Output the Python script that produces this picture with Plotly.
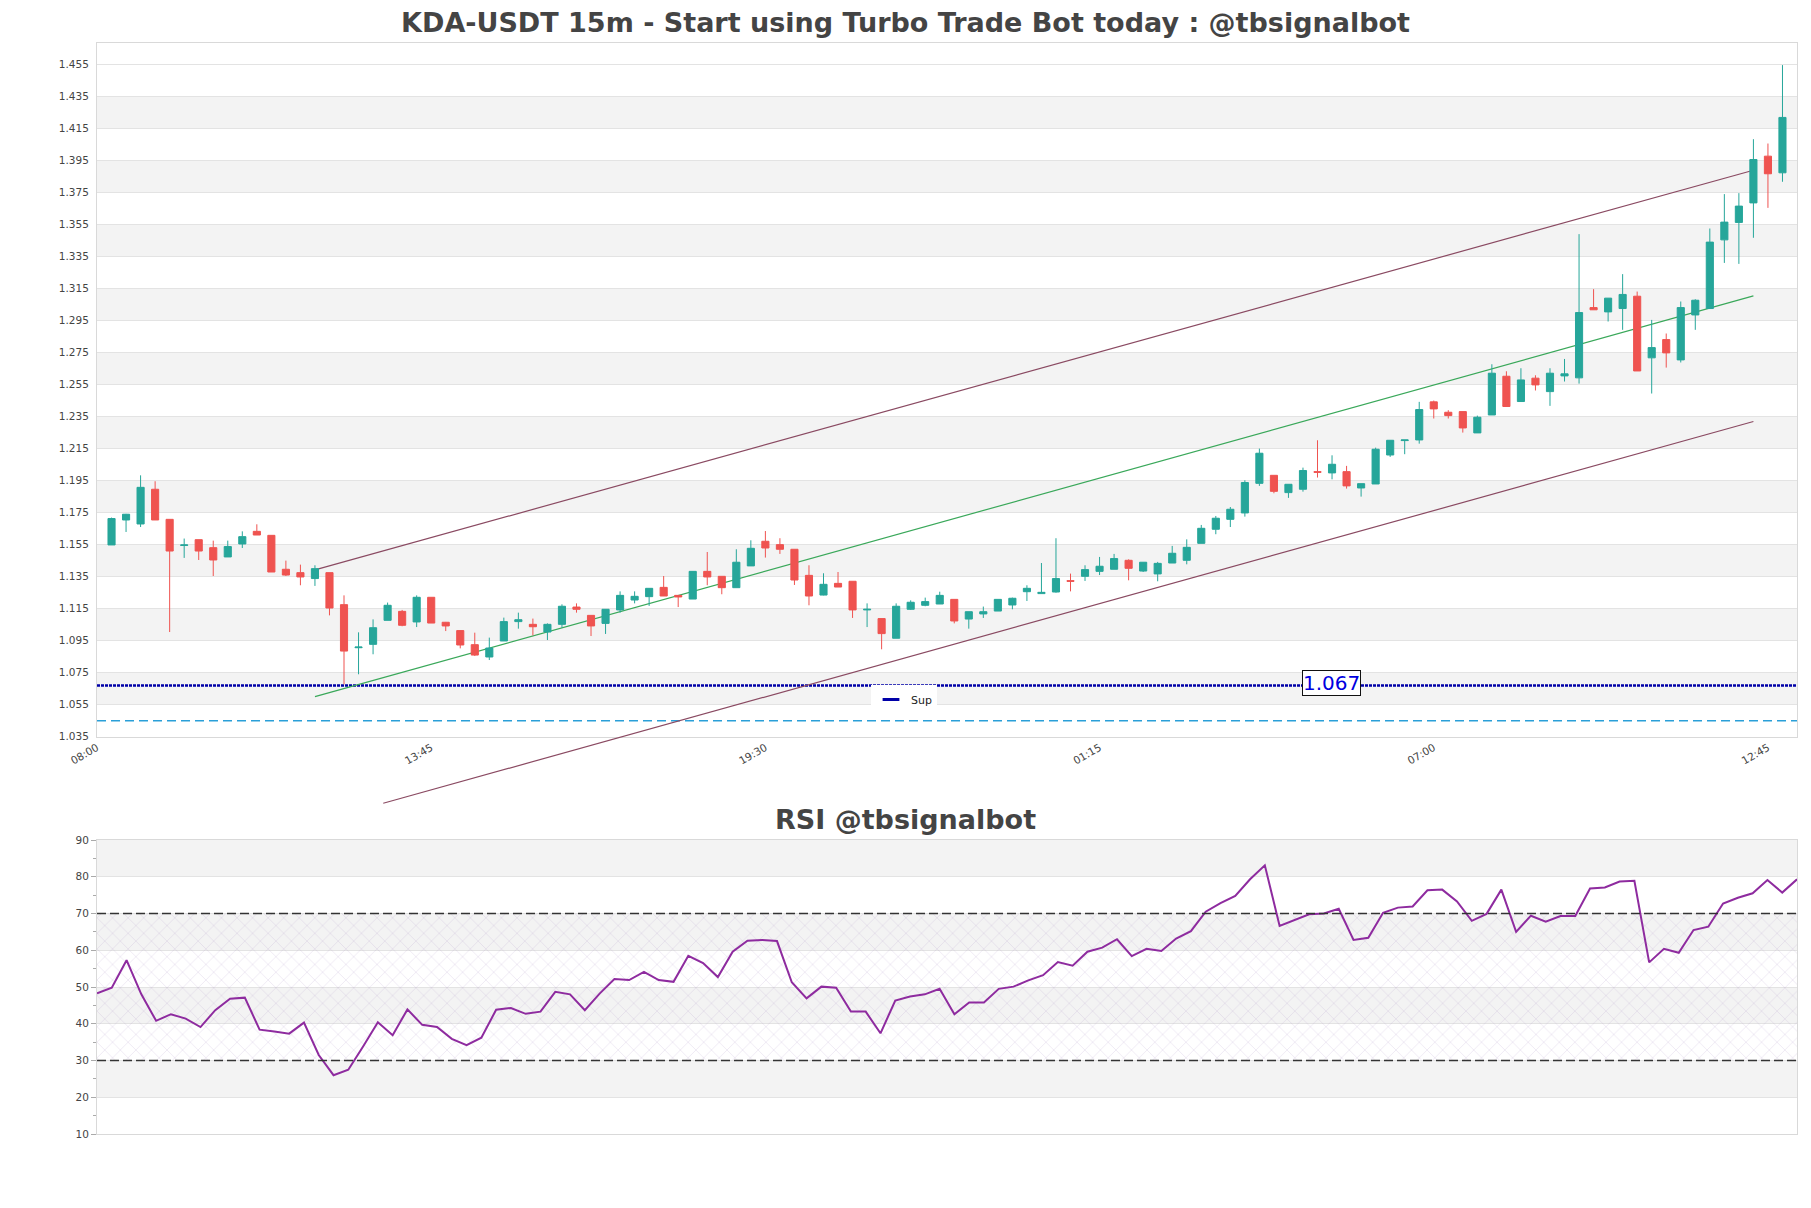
import plotly.graph_objects as go
from datetime import datetime, timedelta

# ---------------- data ----------------
start_time = datetime(2024, 1, 15, 8, 15)
n_candles = 116
dates = [start_time + timedelta(minutes=15 * i) for i in range(n_candles)]

open_ = [1.1548, 1.1704, 1.1679, 1.1896, 1.1708, 1.1545, 1.1581, 1.1531, 1.1473, 1.1554,
         1.1633, 1.1608, 1.1396, 1.1375, 1.1338, 1.1375, 1.1175, 1.0906, 1.0927, 1.1077,
         1.1133, 1.1067, 1.1221, 1.1065, 1.1013, 1.0925, 1.0848, 1.0948, 1.1069, 1.1052,
         1.1004, 1.1052, 1.1160, 1.1108, 1.1058, 1.1142, 1.1204, 1.1225, 1.1283, 1.1233,
         1.1210, 1.1383, 1.1352, 1.1281, 1.1417, 1.1571, 1.1550, 1.1521, 1.1358, 1.1235,
         1.1308, 1.1321, 1.1142, 1.1088, 1.0965, 1.1146, 1.1171, 1.1179, 1.1208, 1.1085,
         1.1117, 1.1135, 1.1173, 1.1256, 1.1244, 1.1254, 1.1325, 1.1352, 1.1383, 1.1396,
         1.1452, 1.1385, 1.1367, 1.1435, 1.1452, 1.1558, 1.1646, 1.1708, 1.1748, 1.1933,
         1.1983, 1.1875, 1.1896, 1.2006, 1.1998, 1.2006, 1.1904, 1.1929, 1.2110, 1.2200,
         1.2204, 1.2442, 1.2377, 1.2381, 1.2248, 1.2360, 1.2602, 1.2444, 1.2590, 1.2506,
         1.2604, 1.2592, 1.3031, 1.3004, 1.3025, 1.3102, 1.2717, 1.2831, 1.2704, 1.2985,
         1.3025, 1.3454, 1.3563, 1.3685, 1.3977, 1.3873]
high = [1.1719, 1.1742, 1.1983, 1.1946, 1.1708, 1.1588, 1.1581, 1.1575, 1.1575, 1.1633,
        1.1677, 1.1608, 1.1450, 1.1425, 1.1421, 1.1375, 1.1233, 1.1002, 1.1083, 1.1188,
        1.1142, 1.1233, 1.1221, 1.1067, 1.1013, 1.1000, 1.0969, 1.1094, 1.1125, 1.1088,
        1.1058, 1.1177, 1.1183, 1.1108, 1.1146, 1.1258, 1.1258, 1.1277, 1.1354, 1.1233,
        1.1383, 1.1504, 1.1352, 1.1521, 1.1577, 1.1635, 1.1590, 1.1521, 1.1421, 1.1371,
        1.1379, 1.1321, 1.1183, 1.1088, 1.1183, 1.1202, 1.1219, 1.1256, 1.1208, 1.1131,
        1.1163, 1.1208, 1.1219, 1.1296, 1.1435, 1.1590, 1.1369, 1.1421, 1.1473, 1.1492,
        1.1458, 1.1440, 1.1442, 1.1542, 1.1583, 1.1673, 1.1729, 1.1785, 1.1952, 1.2150,
        1.1983, 1.1927, 1.2031, 1.2202, 1.2108, 1.2042, 1.1931, 1.2156, 1.2202, 1.2204,
        1.2442, 1.2450, 1.2390, 1.2381, 1.2356, 1.2677, 1.2633, 1.2652, 1.2608, 1.2652,
        1.2710, 1.3490, 1.3146, 1.3090, 1.3240, 1.3131, 1.2954, 1.2869, 1.3069, 1.3083,
        1.3525, 1.3740, 1.3746, 1.4083, 1.4056, 1.4546]
low = [1.1548, 1.1629, 1.1660, 1.1704, 1.1004, 1.1467, 1.1454, 1.1354, 1.1473, 1.1529,
       1.1610, 1.1379, 1.1354, 1.1296, 1.1292, 1.1108, 1.0677, 1.0740, 1.0865, 1.1077,
       1.1040, 1.1035, 1.1060, 1.1010, 1.0902, 1.0854, 1.0829, 1.0948, 1.1025, 1.0983,
       1.0954, 1.1031, 1.1125, 1.0979, 1.0992, 1.1125, 1.1183, 1.1167, 1.1229, 1.1160,
       1.1210, 1.1296, 1.1240, 1.1281, 1.1417, 1.1469, 1.1492, 1.1298, 1.1171, 1.1233,
       1.1285, 1.1092, 1.1035, 1.0896, 1.0965, 1.1142, 1.1165, 1.1179, 1.1058, 1.1025,
       1.1092, 1.1135, 1.1146, 1.1198, 1.1244, 1.1250, 1.1258, 1.1323, 1.1360, 1.1396,
       1.1327, 1.1379, 1.1321, 1.1435, 1.1427, 1.1558, 1.1615, 1.1660, 1.1725, 1.1917,
       1.1871, 1.1842, 1.1881, 1.1969, 1.1958, 1.1900, 1.1850, 1.1929, 1.2098, 1.2115,
       1.2181, 1.2338, 1.2338, 1.2250, 1.2248, 1.2360, 1.2413, 1.2444, 1.2513, 1.2417,
       1.2569, 1.2556, 1.3017, 1.2944, 1.2892, 1.2635, 1.2494, 1.2656, 1.2688, 1.2892,
       1.3025, 1.3310, 1.3304, 1.3467, 1.3654, 1.3817]
close = [1.1713, 1.1740, 1.1908, 1.1704, 1.1510, 1.1548, 1.1510, 1.1454, 1.1538, 1.1600,
         1.1610, 1.1379, 1.1360, 1.1348, 1.1400, 1.1154, 1.0885, 1.0910, 1.1031, 1.1171,
         1.1046, 1.1221, 1.1060, 1.1042, 1.0923, 1.0860, 1.0904, 1.1069, 1.1081, 1.1037,
         1.1052, 1.1165, 1.1146, 1.1042, 1.1146, 1.1233, 1.1227, 1.1277, 1.1229, 1.1223,
         1.1383, 1.1348, 1.1281, 1.1440, 1.1527, 1.1529, 1.1521, 1.1329, 1.1229, 1.1302,
         1.1285, 1.1142, 1.1146, 1.0994, 1.1165, 1.1190, 1.1194, 1.1233, 1.1073, 1.1131,
         1.1131, 1.1208, 1.1215, 1.1277, 1.1252, 1.1338, 1.1321, 1.1394, 1.1415, 1.1463,
         1.1402, 1.1440, 1.1433, 1.1496, 1.1533, 1.1652, 1.1715, 1.1771, 1.1938, 1.2121,
         1.1883, 1.1927, 1.2013, 1.2002, 1.2052, 1.1917, 1.1931, 1.2146, 1.2202, 1.2204,
         1.2394, 1.2398, 1.2356, 1.2279, 1.2346, 1.2621, 1.2413, 1.2579, 1.2548, 1.2621,
         1.2617, 1.3000, 1.3017, 1.3090, 1.3113, 1.2635, 1.2781, 1.2748, 1.3031, 1.3077,
         1.3440, 1.3565, 1.3665, 1.3956, 1.3867, 1.4219]

rsi = [48.3, 49.8, 57.3, 48.0, 40.8, 42.6, 41.4, 39.1, 43.7, 46.8,
       47.1, 38.4, 37.9, 37.3, 40.3, 31.5, 26.0, 27.5, 33.8, 40.4,
       36.9, 43.9, 39.7, 39.1, 35.9, 34.2, 36.2, 43.8, 44.3, 42.7,
       43.3, 48.7, 48.0, 43.7, 48.2, 52.2, 51.9, 54.1, 51.9, 51.4,
       58.5, 56.5, 52.7, 59.6, 62.6, 62.8, 62.5, 51.3, 46.9, 50.1,
       49.8, 43.3, 43.3, 37.4, 46.3, 47.4, 48.0, 49.5, 42.6, 45.8,
       45.8, 49.5, 50.1, 51.8, 53.2, 56.8, 55.8, 59.6, 60.7, 63.0,
       58.4, 60.4, 59.8, 63.2, 65.2, 70.5, 72.8, 74.8, 79.3, 83.1,
       66.6, 68.2, 69.8, 70.0, 71.3, 62.8, 63.4, 70.2, 71.6, 71.9,
       76.3, 76.5, 73.3, 68.0, 69.9, 76.5, 65.0, 69.4, 67.8, 69.3,
       69.3, 76.8, 77.1, 78.7, 78.9, 56.7, 60.4, 59.3, 65.5, 66.4,
       72.7, 74.3, 75.5, 79.1, 75.7, 79.3]

support_level = 1.067
support_label = "1.067"
lower_level = 1.045

# channel lines: (start time, end time, start price, end price)
channel_upper = (datetime(2024, 1, 15, 11, 45), datetime(2024, 1, 16, 12, 30), 1.1392, 1.3889)
channel_mid = (datetime(2024, 1, 15, 11, 45), datetime(2024, 1, 16, 12, 30), 1.0600, 1.3104)
channel_lower = (datetime(2024, 1, 15, 12, 55, 30), datetime(2024, 1, 16, 12, 30), 0.9934, 1.2319)

y_main_range = [1.035, 1.4684]
y_rsi_range = [10, 90]
rsi_upper, rsi_lower = 70, 30

main_title = "KDA-USDT 15m - Start using Turbo Trade Bot today : @tbsignalbot"
rsi_title = "RSI @tbsignalbot"

# ---------------- style ----------------
FONT = "DejaVu Sans"
GRID = "#e3e3e3"
BAND = "#f3f3f3"
BORDER = "#d9d9d9"
TXT = "#444444"
OFF = 8                      # page body offset
W, H = 1795, 1192
ML, MR, MT, MB = 89, 6, 35, 66
plot_w = W - ML - MR
plot_h = H - MT - MB


def px_x(sx):   # screen x -> paper fraction
    return (sx - OFF - ML) / plot_w


def px_y(sy):   # screen y -> paper fraction
    return (H - MB - (sy - OFF)) / plot_h


fig = go.Figure()

fig.add_trace(go.Candlestick(
    x=dates, open=open_, high=high, low=low, close=close,
    increasing=dict(line=dict(color="#26a69a", width=1), fillcolor="#26a69a"),
    decreasing=dict(line=dict(color="#ef5350", width=1), fillcolor="#ef5350"),
    showlegend=False, xaxis="x", yaxis="y", name="KDA-USDT"))

# legend entry for support
fig.add_trace(go.Scatter(
    x=[None], y=[None], mode="markers", name="Sup",
    marker=dict(symbol="line-ew", size=12, line=dict(color="#0000a8", width=3)),
    xaxis="x", yaxis="y", showlegend=True))

# RSI hatch area between 30 and 70
fig.add_trace(go.Scatter(
    x=[dates[0], dates[-1], dates[-1], dates[0], dates[0]],
    y=[rsi_lower, rsi_lower, rsi_upper, rsi_upper, rsi_lower],
    mode="lines", fill="toself", line=dict(width=0),
    fillcolor="rgba(0,0,0,0)",
    fillpattern=dict(shape="x", fgcolor="rgba(165,135,195,0.6)", bgcolor="rgba(0,0,0,0)",
                     size=11, solidity=0.1),
    hoverinfo="skip", showlegend=False, xaxis="x2", yaxis="y2"))

fig.add_trace(go.Scatter(
    x=dates, y=rsi, mode="lines", line=dict(color="#8e2b9f", width=2),
    showlegend=False, xaxis="x2", yaxis="y2", name="RSI"))

shapes = []
# alternating bands main
k = 0
while y_main_range[0] + 0.02 * (2 * k + 2) <= y_main_range[1] + 1e-9:
    y0 = y_main_range[0] + 0.02 * (2 * k + 1)
    shapes.append(dict(type="rect", xref="x domain", yref="y", x0=0, x1=1, y0=y0, y1=y0 + 0.02,
                       fillcolor=BAND, line=dict(width=0), layer="below"))
    k += 1
# alternating bands RSI
for y0 in range(20, 90, 20):
    shapes.append(dict(type="rect", xref="x2 domain", yref="y2", x0=0, x1=1, y0=y0, y1=y0 + 10,
                       fillcolor=BAND, line=dict(width=0), layer="below"))

# support and lower dashed level
shapes.append(dict(type="line", xref="x domain", yref="y", x0=0, x1=1, y0=support_level, y1=support_level,
                   line=dict(color="#0000a8", width=2.5, dash="3px,1px"), layer="below"))
shapes.append(dict(type="line", xref="x domain", yref="y", x0=0, x1=1, y0=lower_level, y1=lower_level,
                   line=dict(color="#2a9fd8", width=1.5, dash="9px,5px"), layer="below"))

# channel
span = y_main_range[1] - y_main_range[0]
shapes.append(dict(type="line", xref="x", yref="y domain", x0=channel_lower[0], x1=channel_lower[1],
                   y0=(channel_lower[2] - y_main_range[0]) / span,
                   y1=(channel_lower[3] - y_main_range[0]) / span,
                   line=dict(color="#8a4a62", width=1.2), layer="above"))
for ch, col in [(channel_upper, "#8a4a62"), (channel_mid, "#3aa85a")]:
    shapes.append(dict(type="line", xref="x", yref="y", x0=ch[0], x1=ch[1], y0=ch[2], y1=ch[3],
                       line=dict(color=col, width=1.2), layer="between"))

# RSI 70 / 30 lines
for lvl in (rsi_upper, rsi_lower):
    shapes.append(dict(type="line", xref="x2 domain", yref="y2", x0=0, x1=1, y0=lvl, y1=lvl,
                       line=dict(color="#333333", width=1.3, dash="9px,4px"), layer="above"))

main_bottom = px_y(736.7)
rsi_top = px_y(840)

fig.update_layout(
    width=W, height=H,
    margin=dict(l=ML, r=MR, t=MT, b=MB, autoexpand=False),
    paper_bgcolor="white", plot_bgcolor="white",
    font=dict(family=FONT, color=TXT, size=11),
    title=dict(text="<b>" + main_title + "</b>", x=0.5, xref="container", xanchor="center",
               y=1 - (23 - OFF) / H, yref="container", yanchor="middle",
               font=dict(family=FONT, size=27, color=TXT)),
    shapes=shapes,
    showlegend=True,
    legend=dict(x=px_x(871), y=px_y(685), xanchor="left", yanchor="top",
                bgcolor="white", orientation="h", font=dict(size=11, color="#222"),
                borderwidth=0),
    xaxis=dict(domain=[0, 1], anchor="y", type="date",
               range=[dates[0] - timedelta(minutes=15), dates[-1] + timedelta(minutes=15)],
               tick0=dates[0] - timedelta(minutes=15), dtick=345 * 60 * 1000,
               tickformat="%H:%M", tickangle=-30, tickfont=dict(size=10.5, color=TXT),
               showgrid=False, zeroline=False, showline=True, mirror=True, linecolor=BORDER,
               ticks="", rangeslider=dict(visible=False)),
    yaxis=dict(domain=[main_bottom, 1], anchor="x", range=y_main_range,
               tick0=y_main_range[0], dtick=0.02, tickformat=".3f",
               tickfont=dict(size=10.5, color=TXT),
               showgrid=True, gridcolor=GRID, gridwidth=1, zeroline=False,
               showline=True, mirror=True, linecolor=BORDER,
               ticks="outside", ticklen=5, tickcolor="rgba(0,0,0,0)"),
    xaxis2=dict(domain=[0, 1], anchor="y2", type="date", range=[dates[0], dates[-1]],
                showticklabels=False, showgrid=False, zeroline=False,
                showline=True, mirror=True, linecolor=BORDER, ticks=""),
    yaxis2=dict(domain=[0, rsi_top], anchor="x2", range=y_rsi_range, dtick=10, tick0=10,
                tickfont=dict(size=10.5, color=TXT),
                showgrid=True, gridcolor=GRID, zeroline=False,
                showline=True, mirror=True, linecolor=BORDER,
                ticks="outside", ticklen=5, tickcolor="#aaaaaa",
                minor=dict(ticks="outside", ticklen=3, dtick=5, tick0=5, tickcolor="#aaaaaa",
                           showgrid=False)),
    annotations=[
        dict(text="<b>" + rsi_title + "</b>", xref="paper", yref="paper",
             x=(W / 2 - ML) / plot_w, y=px_y(819.5),
             xanchor="center", yanchor="middle", showarrow=False,
             font=dict(family=FONT, size=27, color=TXT)),
        dict(text=support_label, xref="paper", yref="y", x=px_x(1331), y=support_level,
             xanchor="center", yanchor="middle", yshift=2, showarrow=False,
             font=dict(family=FONT, size=20, color="#0000e0"),
             bgcolor="white", bordercolor="#111111", borderwidth=1, borderpad=0),
    ],
)

fig.write_html("out.html")
